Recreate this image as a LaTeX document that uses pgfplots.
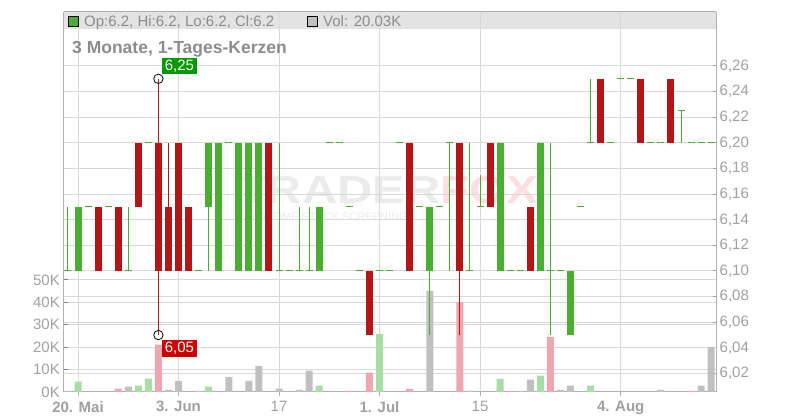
\documentclass[border=0pt]{standalone}
\usepackage{pgfplots}
\pgfplotsset{compat=1.18}
\usepackage{pgfplotstable}
\usepackage{fontspec}
\setmainfont{Liberation Sans}
\definecolor{cgreen}{HTML}{4AAE32}
\definecolor{cred}{HTML}{B31616}
\definecolor{vgreen}{HTML}{A9DCA6}
\definecolor{vred}{HTML}{F0A6AE}
\definecolor{vgrey}{HTML}{C0C0C0}
\definecolor{gridc}{HTML}{D9D9D9}
\definecolor{axisc}{HTML}{B0B0B0}
\definecolor{labc}{HTML}{A0A0A0}
\definecolor{hdrc}{HTML}{E3E3E3}
\definecolor{txtc}{HTML}{8C8C8C}
\definecolor{wmgrey}{HTML}{EBEBEB}
\definecolor{wmpink}{HTML}{FDDFE3}
\definecolor{hibox}{HTML}{009900}
\definecolor{lobox}{HTML}{CC0000}

\pgfplotstableread{
x o c
0 6.10 6.15
13 6.15 6.20
14 6.10 6.20
16 6.10 6.20
17 6.10 6.20
18 6.10 6.20
24 6.10 6.15
35 6.10 6.15
42 6.10 6.20
46 6.10 6.20
49 6.05 6.10
}\greenbody
\pgfplotstableread{
x o c
2 6.15 6.10
4 6.15 6.10
6 6.20 6.15
8 6.20 6.10
9 6.15 6.10
10 6.20 6.10
11 6.15 6.10
19 6.20 6.10
29 6.10 6.05
33 6.20 6.10
38 6.20 6.10
41 6.20 6.15
45 6.15 6.10
52 6.25 6.20
56 6.25 6.20
59 6.25 6.20
}\redbody
\pgfplotstableread{
x p
-1 6.10
1 6.15
3 6.15
5 6.10
7 6.20
12 6.10
15 6.20
20 6.10
21 6.10
22 6.10
23 6.10
25 6.20
26 6.20
27 6.15
28 6.10
30 6.10
31 6.10
32 6.20
34 6.15
36 6.15
37 6.20
39 6.10
40 6.15
43 6.10
44 6.10
47 6.10
48 6.10
50 6.15
51 6.20
53 6.20
54 6.25
55 6.25
57 6.20
58 6.20
60 6.225
61 6.20
62 6.20
63 6.20
}\doji
\pgfplotstableread{
x l h
-1 6.10 6.15
5 6.10 6.15
13 6.10 6.20
20 6.10 6.20
22 6.10 6.15
23 6.10 6.15
35 6.05 6.15
37 6.10 6.20
39 6.10 6.20
40 6.15 6.175
47 6.05 6.20
51 6.20 6.25
60 6.20 6.225
}\greenwick
\pgfplotstableread{
x l h
8 6.05 6.25
9 6.10 6.20
38 6.05 6.20
}\redwick
\pgfplotstableread{
x v
0 4.6
6 2.9
7 6.0
13 2.4
24 2.8
30 26.0
42 5.9
46 7.3
51 2.8
}\volgreen
\pgfplotstableread{
x v
4 1.5
8 21.1
27 0.5
29 8.6
33 1.4
38 40.2
43 0.5
47 24.6
61 0.5
}\volred
\pgfplotstableread{
x v
-1 0.5
5 2.4
9 0.9
10 5.0
12 0.5
15 6.8
17 5.0
18 11.7
20 1.5
22 1.0
23 9.5
35 45.1
39 0.6
44 0.5
45 5.5
48 1.0
49 2.8
58 1.0
62 2.8
63 20.03
}\volgrey

\newcommand\hilab{6,25}
\newcommand\lolab{6,05}

\pgfplotsset{
  base/.style={scale only axis, width=652.5pt, height=380pt,
    xmin=-1.443, xmax=63.48, at={(63.5pt,28pt)}, anchor=south west},
  pricey/.style={ymin=6.00556, ymax=6.30215},
  candle/.style 2 args={no marks, draw=none, error bars/.cd, y dir=both, y explicit, error mark=none,
    error bar style={line width=#1, solid, draw=#2}},
}

\begin{document}
\begin{tikzpicture}[x=1pt,y=1pt]
\useasboundingbox (0,0) rectangle (800,420);
% header band
\fill[hdrc] (63.5,408) rectangle (716,390.5);
% watermark
\node[anchor=base west, inner sep=0] at (237,216)
  {\fontsize{39}{39}\selectfont\bfseries\color{wmgrey}\scalebox{1.25}[1]{TRADER}\color{wmpink}\scalebox{1.22}[1]{FOX}};
\node[anchor=base west, inner sep=0] at (244,199)
  {\fontsize{11}{11}\selectfont\color{wmgrey}REALTIME STOCK SCREENING};

% price grid + right labels
\begin{axis}[base, pricey, hide x axis, axis y line*=right,
  axis line style={axisc, line width=1pt},
  ytick={6.02,6.04,6.06,6.08,6.10,6.12,6.14,6.16,6.18,6.20,6.22,6.24,6.26},
  ymajorgrids, major grid style={gridc, line width=1pt},
  tick align=inside, major tick length=3.5pt,
  y tick style={labc, line width=1pt},
  yticklabel style={font=\fontsize{15}{15}\selectfont, text=labc, inner sep=3.5pt,
    /pgf/number format/.cd, fixed, fixed zerofill, precision=2, use comma, assume math mode=true}]
\end{axis}

% volume axis
\begin{axis}[base, ymin=0, ymax=169.64,
  axis x line*=bottom, axis y line*=left,
  axis line style={axisc, line width=1pt},
  xtick={0,10,20,30,40,54},
  xticklabels={\textbf{20. Mai},\textbf{3. Jun},17,\textbf{1. Jul},15,\textbf{4. Aug}},
  ytick={0,10,20,30,40,50},
  yticklabels={0K,10K,20K,30K,40K,50K},
  xmajorgrids, ymajorgrids, major grid style={gridc, line width=1pt},
  tick align=inside, major tick length=4pt,
  x tick style={axisc, line width=1pt, yshift=-4pt},
  y tick style={gray, line width=1pt},
  xticklabel style={font=\fontsize{15}{15}\selectfont, text=labc, anchor=north, inner sep=0pt, yshift=-9pt},
  yticklabel style={font=\fontsize{15}{15}\selectfont, text=labc, inner sep=3.5pt}]
\addplot[ybar, bar width=7pt, bar shift=0pt, fill=vgreen, draw=none] table[x=x,y=v]{\volgreen};
\addplot[ybar, bar width=7pt, bar shift=0pt, fill=vred, draw=none] table[x=x,y=v]{\volred};
\addplot[ybar, bar width=7pt, bar shift=0pt, fill=vgrey, draw=none] table[x=x,y=v]{\volgrey};
\end{axis}

% candles
\begin{axis}[base, pricey, hide axis, clip=false]
\addplot[candle={1pt}{cgreen}]
  table[x=x, y expr={(\thisrow{l}+\thisrow{h})/2}, y error expr={(\thisrow{h}-\thisrow{l})/2}]{\greenwick};
\addplot[candle={1pt}{cred}]
  table[x=x, y expr={(\thisrow{l}+\thisrow{h})/2}, y error expr={(\thisrow{h}-\thisrow{l})/2}]{\redwick};
\addplot[candle={7pt}{cgreen}]
  table[x=x, y expr={(\thisrow{o}+\thisrow{c})/2}, y error expr={abs(\thisrow{c}-\thisrow{o})/2}]{\greenbody};
\addplot[candle={7pt}{cred}]
  table[x=x, y expr={(\thisrow{o}+\thisrow{c})/2}, y error expr={abs(\thisrow{c}-\thisrow{o})/2}]{\redbody};
\addplot[only marks, mark=-, mark size=3.5pt, mark options={cgreen, line width=1pt}]
  table[x=x, y=p]{\doji};
\addplot[only marks, mark=o, mark size=4.7pt, mark options={black, line width=0.8pt},
  nodes near coords={\hilab},
  every node near coord/.append style={anchor=south west, fill=hibox, text=white,
    font=\fontsize{15}{15}\selectfont, inner xsep=3pt, inner ysep=2pt, xshift=3pt, yshift=4pt}]
  coordinates {(8,6.25)};
\addplot[only marks, mark=o, mark size=4.7pt, mark options={black, line width=0.8pt},
  nodes near coords={\lolab},
  every node near coord/.append style={anchor=north west, fill=lobox, text=white,
    font=\fontsize{15}{15}\selectfont, inner xsep=3pt, inner ysep=2pt, xshift=3pt, yshift=-5pt}]
  coordinates {(8,6.05)};
\end{axis}

% frame top
\draw[axisc, line width=1pt] (63.5,408) -- (716,408);
% header contents
\filldraw[fill=cgreen, draw=black, line width=0.8pt] (68,403.3) rectangle (78,393.3);
\node[anchor=base west, inner sep=0, text=txtc, font=\fontsize{15}{15}\selectfont] at (84,393.3) {Op:6.2, Hi:6.2, Lo:6.2, Cl:6.2};
\filldraw[fill=vgrey, draw=black, line width=0.8pt] (307,403.3) rectangle (317,393.3);
\node[anchor=base west, inner sep=0, text=txtc, font=\fontsize{15}{15}\selectfont] at (323,393.3) {Vol: 20.03K};
\node[anchor=base west, inner sep=0, text=txtc, font=\fontsize{17.5}{20}\selectfont\bfseries] at (72,366) {3 Monate, 1-Tages-Kerzen};
\end{tikzpicture}
\end{document}
